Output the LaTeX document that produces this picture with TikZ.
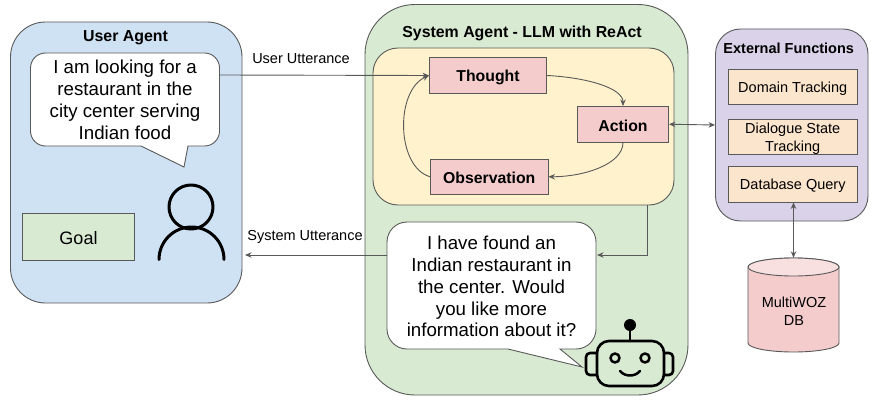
\documentclass[tikz,border=0pt]{standalone}
\usepackage{fontspec}
\setmainfont{Liberation Sans}
\usetikzlibrary{arrows.meta}
\definecolor{edge}{HTML}{595959}
\definecolor{cblue}{HTML}{CFE2F3}
\definecolor{cgreen}{HTML}{D9EAD3}
\definecolor{cyellow}{HTML}{FFF2CC}
\definecolor{cpink}{HTML}{F4CCCC}
\definecolor{cpinklight}{HTML}{F8E0E0}
\definecolor{corange}{HTML}{FCE5CD}
\definecolor{cpurple}{HTML}{D9D2E9}
\tikzset{
  panel/.style={draw=edge,line width=0.9pt},
  boxnode/.style={draw=edge,line width=0.9pt,inner sep=0pt,align=center},
  stepbox/.style={boxnode,fill=cpink,text height=13pt,text depth=0pt,font=\fontsize{15.8}{18}\selectfont\bfseries},
  funcbox/.style={boxnode,fill=corange,minimum width=129.5pt,font=\fontsize{14.5}{18}\selectfont},
  titletext/.style={inner sep=0pt,anchor=base,font=\fontsize{15.9}{18}\selectfont\bfseries},
  smalltext/.style={inner sep=0pt,font=\fontsize{14.5}{18}\selectfont,align=center},
  saytext/.style={inner sep=0pt,align=center,font=\fontsize{18.7}{21.9}\selectfont},
  conn/.style={draw=edge,line width=0.9pt,-{Stealth[length=6.5pt,width=5.5pt]}},
  conntwo/.style={draw=edge,line width=0.9pt,{Stealth[length=6.5pt,width=5.5pt]}-{Stealth[length=6.5pt,width=5.5pt]}},
  icon/.style={draw=black,line width=3pt,line cap=round,line join=round},
  roboticon/.style={draw=black,line width=2.6pt,line cap=round,line join=round}
}
\begin{document}
\begin{tikzpicture}[x=1pt,y=-1pt]
\useasboundingbox (0,0) rectangle (874,409);
% panels
\node[panel,fill=cblue,rounded corners=35pt,inner sep=0pt,minimum width=231.5pt,minimum height=281pt] (user) at (126.25,162.5) {};
\node[panel,fill=cgreen,rounded corners=50pt,inner sep=0pt,minimum width=323pt,minimum height=390.5pt] (sys) at (526.5,199.75) {};
\node[panel,fill=cyellow,rounded corners=25pt,inner sep=0pt,minimum width=301pt,minimum height=157pt] (react) at (523.5,126.5) {};
\node[panel,fill=cpurple,rounded corners=25pt,inner sep=0pt,minimum width=152.5pt,minimum height=192pt] (ext) at (791.75,125) {};
% titles
\node[titletext] (tuser) at (125.5,41.5) {User Agent};
\node[titletext] (tsys) at (522,37.3) {System Agent - LLM with ReAct};
\node[font=\fontsize{14.5}{18}\selectfont\bfseries,inner sep=0pt,anchor=base] (text) at (788.7,53.4) {External Functions};
% user bubble
\draw[panel,fill=white,line join=miter] (45.5,53) -- (204.5,53) arc[start angle=-90,end angle=0,radius=15] -- (219.5,131) arc[start angle=0,end angle=90,radius=15] -- (188,146) -- (184,167) -- (141,146) -- (45.5,146) arc[start angle=90,end angle=180,radius=15] -- (30.5,68) arc[start angle=180,end angle=270,radius=15] -- cycle;
\node[saytext] (ubub) at (125,100) {I am looking for a\\restaurant in the\\city center serving\\Indian food};
% system bubble
\draw[panel,fill=white,line join=miter] (407,222) -- (576,222) arc[start angle=-90,end angle=0,radius=20] -- (596,329) arc[start angle=0,end angle=90,radius=20] -- (560,349) -- (582,367) -- (508,349) -- (407,349) arc[start angle=90,end angle=180,radius=20] -- (387,242) arc[start angle=180,end angle=270,radius=20] -- cycle;
\node[saytext] (sbub) at (491.5,286.5) {I have found an\\Indian restaurant in\\the center. Would\\you like more\\information about it?};
% goal
\node[boxnode,fill=cgreen,minimum width=112pt,minimum height=46.5pt,text height=15pt,text depth=0pt,font=\fontsize{18}{22}\selectfont] (goal) at (78.5,236.75) {Goal};
% steps
\node[stepbox,minimum width=117pt,minimum height=36pt] (thought) at (488,75.5) {Thought};
\node[stepbox,minimum width=91pt,minimum height=35.5pt] (action) at (623,124.25) {\raisebox{-0.7pt}{Action}};
\node[stepbox,minimum width=117.5pt,minimum height=34.5pt] (obs) at (489.25,176.75) {Observation};
% functions
\node[funcbox,minimum height=34.5pt,text height=11pt,text depth=0pt] (domain) at (792.75,86.75) {Domain Tracking};
\node[funcbox,minimum height=35.5pt] (dialogue) at (792.75,136.75) {};
\node[smalltext] (dialoguetext) at (792.75,138.5) {Dialogue State\\Tracking};
\node[funcbox,minimum height=36pt,text height=10.5pt,text depth=0pt] (database) at (792.75,184) {Database Query};
% database cylinder
\draw[panel,fill=cpink] (748,267) -- (748,343) arc[start angle=180,end angle=0,x radius=45.5,y radius=9] -- (839,267) arc[start angle=360,end angle=180,x radius=45.5,y radius=9] -- cycle;
\draw[panel,fill=cpinklight] (793.5,267) ellipse[x radius=45.5,y radius=9];
\node[smalltext,minimum width=91pt,minimum height=94pt] (db) at (793.5,305) {};
\node[smalltext] (dbtext) at (794,311.5) {MultiWOZ\\DB};
% labels
\node[smalltext,anchor=base] (lu) at (301,64) {User Utterance};
\node[smalltext,anchor=base] (ls) at (305,240.7) {System Utterance};
% connector anchors
\coordinate (uout) at (219.5,75);
\coordinate (reactout) at (647.5,205);
\coordinate (sin) at (597,255);
\coordinate (sout) at (387,255);
\coordinate (uin) at (245,255);
% connectors
\draw[conn] (uout) -- (thought.west);
\draw[conn] (sout) -- (uin);
\draw[conn] (reactout) |- (sin);
\draw[conn] (thought.east) .. controls +(40,2) and +(0,-18) .. (action.north);
\draw[conn] (action.south) .. controls +(0,22) and +(35,0) .. (obs.east);
\draw[conn] (obs.west) .. controls +(-34,-10) and +(-34,15) .. (thought.west);
\draw[conntwo] (action.east) -- (ext.west);
\draw[conntwo] (db.north |- database.south) -- (db.north);
% person icon
\draw[icon] (191,207) circle[radius=22];
\draw[icon] (159,259.5) arc[start angle=180,end angle=360,radius=32.5];
% robot icon
\draw[roboticon,rounded corners=12pt] (597,341) rectangle (664,386);
\draw[roboticon,rounded corners=4pt] (597,353) -- (586,353) -- (586,375) -- (597,375);
\draw[roboticon,rounded corners=4pt] (664,353) -- (673,353) -- (673,375) -- (664,375);
\draw[roboticon,line width=2.5pt] (630,341) -- (630,328);
\fill[black] (630,325) circle[radius=6];
\draw[roboticon,line width=2.5pt] (615,358) circle[radius=4.5];
\draw[roboticon,line width=2.5pt] (645,358) circle[radius=4.5];
\draw[roboticon,line width=2.5pt] (620,371) .. controls (625,377) and (635,377) .. (640,371);
\end{tikzpicture}
\end{document}
